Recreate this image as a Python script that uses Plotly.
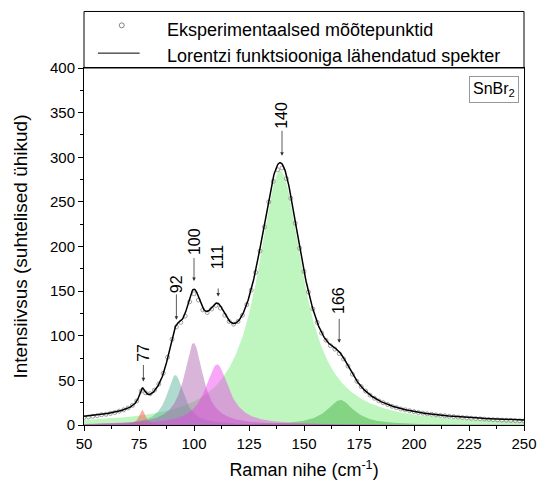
import numpy as np
import plotly.graph_objects as go

# Lorentzian components (centre cm^-1, height, FWHM)
peak_labels = ["77", "92", "100", "111", "140", "166"]
peak_centers = [76.5, 91.5, 99.8, 110.5, 139.2, 166.5]
peak_amps = [17, 56, 92, 68, 285, 28]
peak_fwhm = [3.5, 9.5, 10.5, 13, 25, 15]
baseline = 1.5
fill_colors = ["rgba(250,90,90,0.5)", "rgba(80,170,150,0.45)", "rgba(170,90,170,0.45)",
               "rgba(240,60,240,0.45)", "rgba(120,235,120,0.47)", "rgba(60,170,60,0.45)"]

x_exp = list(range(50, 251, 2))
y_exp = [8.5, 9, 9.8, 10.5, 11.5, 12, 13, 14, 15.5, 17,
         19, 22, 27, 38, 36, 35, 39, 46, 58, 76,
         96, 110, 115, 122, 138, 147, 140, 129, 126, 130,
         134, 131, 123, 116, 113, 116, 123, 135, 151, 171,
         195, 222, 250, 273, 286, 288, 276, 254, 226, 198,
         172, 149, 130, 115, 103, 95, 89, 85, 80, 74,
         66, 57, 49, 43, 38, 33.5, 30, 27, 25, 23,
         21, 19.5, 18, 17, 16, 15, 14, 13.3, 12.5, 12,
         11.3, 10.8, 10.3, 9.8, 9.3, 8.8, 8.4, 8, 7.6, 7.2,
         6.9, 6.6, 6.3, 6, 5.8, 5.5, 5.3, 5.1, 4.9, 4.7, 4.5]

x_fine = np.linspace(50, 250, 801)

def lor(x, c, a, w):
    return a / (1 + ((x - c) / (w / 2)) ** 2)

comps = [lor(x_fine, c, a, w) for c, a, w in zip(peak_centers, peak_amps, peak_fwhm)]
fit = baseline + np.sum(comps, axis=0)

fig = go.Figure()
order = [4, 5, 0, 1, 2, 3]
for i in order:
    fig.add_trace(go.Scatter(x=x_fine, y=comps[i], mode="lines", line=dict(width=0),
                             fill="tozeroy", fillcolor=fill_colors[i], hoverinfo="skip", showlegend=False))
fig.add_trace(go.Scatter(x=x_exp, y=y_exp, mode="markers",
                         marker=dict(symbol="circle-open", size=4, color="#888", line=dict(width=0.8)),
                         showlegend=False))
fig.add_trace(go.Scatter(x=x_fine, y=fit, mode="lines", line=dict(color="black", width=1.5), showlegend=False))

FONT = "Liberation Sans, Arial, sans-serif"
# peak label offsets in pixels above the fitted curve: text centre, arrow tip, gap after text
txt_off = [36, 41, 47, 46.5, 48, 51]
tip_off = [7, 5, 8, 7, 8, 9]
start_gap = [3, 1, 2, 19, 1, 4]
ann = []
for lab, to, tp, sg in zip(peak_labels, txt_off, tip_off, start_gap):
    xc = float(lab)
    yc = float(np.interp(xc, x_fine, fit))
    ann.append(dict(x=xc, y=yc, xref="x", yref="y", text=lab, textangle=-90,
                    showarrow=True, ax=0, ay=-(to - tp), axref="pixel", ayref="pixel",
                    yshift=tp, arrowhead=2, arrowsize=0.9, arrowwidth=0.8, arrowcolor="#333",
                    startstandoff=sg, borderpad=0,
                    font=dict(size=16, color="black", family=FONT)))
# legend text
ann.append(dict(x=82/443, y=1 + (68 - 30) / 360, xref="paper", yref="paper", xanchor="left", yanchor="middle",
                text="Eksperimentaalsed mõõtepunktid", showarrow=False, font=dict(size=18, family=FONT, color="black")))
ann.append(dict(x=82/443, y=1 + (68 - 56) / 360, xref="paper", yref="paper", xanchor="left", yanchor="middle",
                text="Lorentzi funktsiooniga lähendatud spekter", showarrow=False, font=dict(size=18, family=FONT, color="black")))
ann.append(dict(x=1 - 5/443, y=1 - 8/360, xref="paper", yref="paper", xanchor="right", yanchor="top",
                text="SnBr<sub>2</sub>", showarrow=False, bordercolor="#999", borderwidth=1, borderpad=3,
                bgcolor="white", font=dict(size=16, family=FONT, color="black")))

shapes = [
    dict(type="rect", xref="paper", yref="paper", x0=0, x1=1, y0=1, y1=1 + 57/360, line=dict(color="black", width=1)),
    dict(type="line", xref="paper", yref="paper", x0=14/443, x1=56/443, y0=1 + 15/360, y1=1 + 15/360,
         line=dict(color="black", width=1)),
    dict(type="circle", xref="paper", yref="paper", x0=35.5/443, x1=40.5/443, y0=1 + 40.5/360, y1=1 + 45.5/360,
         line=dict(color="#666", width=0.8)),
]

fig.update_layout(
    width=549, height=489, margin=dict(l=84, r=22, t=68, b=61),
    paper_bgcolor="white", plot_bgcolor="white",
    font=dict(family=FONT, size=15, color="black"),
    annotations=ann, shapes=shapes, showlegend=False,
    xaxis=dict(range=[50, 250], dtick=25, tick0=50, ticks="outside", ticklen=5, tickwidth=1, tickcolor="black",
               showline=True, linecolor="black", linewidth=1, mirror=True, showgrid=False, zeroline=False,
               minor=dict(dtick=12.5, ticks="outside", ticklen=3, tickcolor="black"),
               title=dict(text="Raman nihe (cm<sup>-1</sup>)", font=dict(size=18), standoff=12),
               tickfont=dict(size=15)),
    yaxis=dict(range=[0, 400], dtick=50, ticks="outside", ticklen=5, tickwidth=1, tickcolor="black",
               showline=True, linecolor="black", linewidth=1, mirror=True, showgrid=False, zeroline=False,
               minor=dict(dtick=25, ticks="outside", ticklen=3, tickcolor="black"),
               title=dict(text="Intensiivsus (suhtelised ühikud)", font=dict(size=19), standoff=17),
               tickfont=dict(size=15)),
)
fig.write_html("out.html")
